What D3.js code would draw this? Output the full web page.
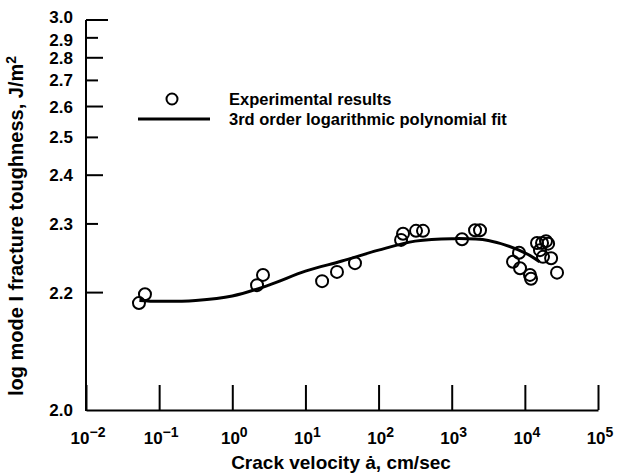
<!DOCTYPE html>
<html><head><meta charset="utf-8">
<script src="https://cdn.jsdelivr.net/npm/d3@7"></script>
<style>
body{margin:0;background:#fff}
svg text{font-family:"Liberation Sans",Arial,Helvetica,sans-serif;font-weight:bold;fill:#000}
</style>
</head><body>
<svg id="c" width="621" height="475"></svg>
<script>
// ---- data ----
const xTickExponents = [-2, -1, 0, 1, 2, 3, 4, 5];
const yTickValues = [2.2, 2.3, 2.4, 2.5, 2.6, 2.7, 2.8, 2.9, 3.0];
const yTickLabels = ["2.2", "2.3", "2.4", "2.5", "2.6", "2.7", "2.8", "2.9", "3.0"];
const yBottomLabel = "2.0";

const expVelocity = [0.053, 0.064, 2.18, 2.63, 16.9, 27, 47.6, 203, 216, 325, 405, 1383, 2084, 2438,
  6890, 8318, 8590, 11750, 12140, 14660, 17170, 19450, 17700, 16100, 22860, 20800, 27540];
const expToughness = [2.188, 2.198, 2.209, 2.222, 2.214, 2.226, 2.238, 2.273, 2.283, 2.288, 2.288, 2.274, 2.289, 2.289,
  2.240, 2.253, 2.231, 2.222, 2.217, 2.268, 2.268, 2.271, 2.247, 2.257, 2.245, 2.267, 2.225];

const fitVelocity = [0.0537, 0.1, 0.316, 1, 3.16, 10, 31.6, 100, 316, 1000, 3162, 10000, 15850];
const fitToughness = [2.191, 2.190, 2.191, 2.196, 2.209, 2.227, 2.241, 2.257, 2.271, 2.275, 2.272, 2.253, 2.240];

const legendLabels = ["Experimental results", "3rd order logarithmic polynomial fit"];
const xTitle = "Crack velocity \u0227, cm/sec";
const yTitle = "log mode I fracture toughness, J/m";

(function () {
// ---- layout ----
const svg = d3.select("#c");
const mLeft = 86, mRight = 598, mTop = 20, mBottom = 410;
const x = d3.scaleLog().domain([1e-2, 1e5]).range([mLeft, mRight]);
const yBase = 2.0;
const yl = d3.scaleLog().domain([0.1, 1]).range([mBottom, mTop]);
const y = v => yl(v - yBase);

// x axis
const xAxis = d3.axisBottom(x)
  .tickValues(xTickExponents.map(e => Math.pow(10, e)))
  .tickSizeInner(-25).tickSizeOuter(0).tickFormat("");
const gx = svg.append("g").attr("transform", `translate(0,${mBottom})`).call(xAxis);
gx.select(".domain").attr("stroke", "#000").attr("stroke-width", 2);
gx.selectAll(".tick line").attr("stroke", "#000").attr("stroke-width", 2);
xTickExponents.forEach(e => {
  const t = svg.append("text").attr("x", x(Math.pow(10, e)) + 2).attr("y", 444)
    .attr("text-anchor", "middle").style("font-size", "17px");
  t.append("tspan").text("10");
  t.append("tspan").attr("dy", -7).style("font-size", "14px").text(e < 0 ? "\u2212" + (-e) : String(e));
});

// y axis
svg.append("line").attr("x1", mLeft).attr("x2", mLeft).attr("y1", mTop).attr("y2", mBottom + 1)
  .attr("stroke", "#000").attr("stroke-width", 2);
yTickValues.forEach((v, i) => {
  const len = v === 3.0 ? 22 : (Math.round(v * 10) % 2 === 0 ? 17 : 12);
  svg.append("line").attr("x1", mLeft).attr("x2", mLeft + len).attr("y1", y(v)).attr("y2", y(v))
    .attr("stroke", "#000").attr("stroke-width", 2);
  const dy = v === 3.0 ? 3 : (v === 2.9 ? 8 : 6);
  svg.append("text").attr("x", 73).attr("y", y(v) + dy).attr("text-anchor", "end")
    .style("font-size", "17px").text(yTickLabels[i]);
});
svg.append("text").attr("x", 73).attr("y", mBottom + 6).attr("text-anchor", "end")
  .style("font-size", "17px").text(yBottomLabel);

// fit curve
const line = d3.line().x((d, i) => x(fitVelocity[i])).y((d, i) => y(fitToughness[i]))
  .curve(d3.curveCatmullRom.alpha(0.5));
svg.append("path").attr("d", line(fitVelocity)).attr("fill", "none")
  .attr("stroke", "#000").attr("stroke-width", 3);

// points
svg.append("g").selectAll("circle").data(expVelocity).join("circle")
  .attr("cx", (d) => x(d)).attr("cy", (d, i) => y(expToughness[i])).attr("r", 6)
  .attr("fill", "none").attr("stroke", "#000").attr("stroke-width", 2);

// legend
svg.append("circle").attr("cx", 172).attr("cy", 99).attr("r", 5.5)
  .attr("fill", "none").attr("stroke", "#000").attr("stroke-width", 2);
svg.append("text").attr("x", 229).attr("y", 105).style("font-size", "16.5px").text(legendLabels[0]);
svg.append("line").attr("x1", 138).attr("x2", 210).attr("y1", 119).attr("y2", 119)
  .attr("stroke", "#000").attr("stroke-width", 3);
svg.append("text").attr("x", 229).attr("y", 125).style("font-size", "16.5px").text(legendLabels[1]);

// titles
svg.append("text").attr("x", 341).attr("y", 469).attr("text-anchor", "middle")
  .style("font-size", "19px").text(xTitle);
const yt = svg.append("text").attr("transform", "translate(23,226) rotate(-90)")
  .attr("text-anchor", "middle").style("font-size", "20px");
yt.append("tspan").text(yTitle);
yt.append("tspan").attr("dy", -7).style("font-size", "14px").text("2");
})();
</script>
</body></html>
